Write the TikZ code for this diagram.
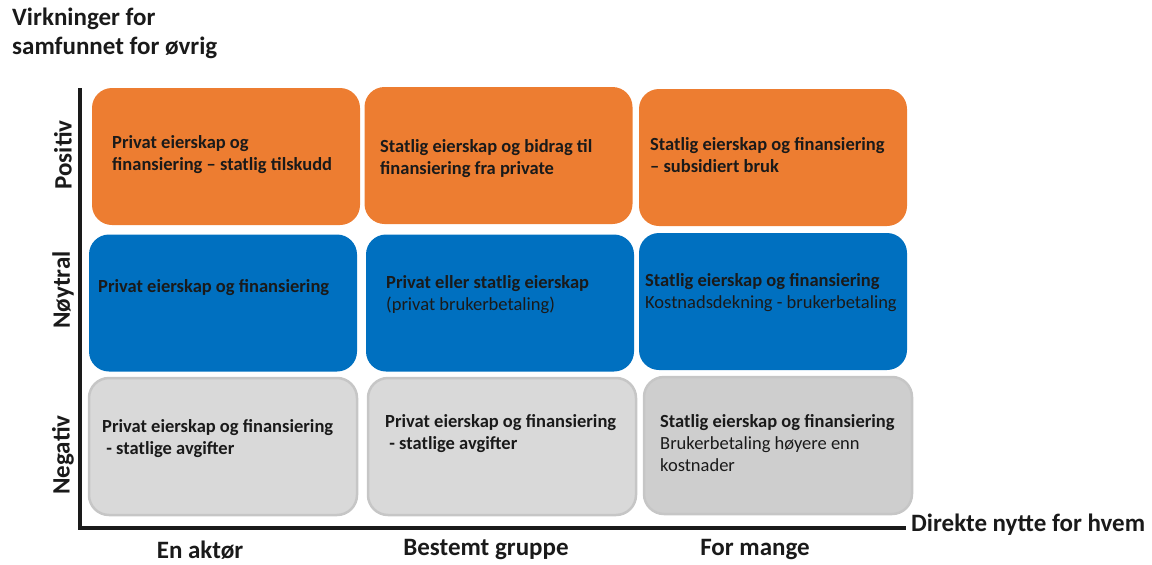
\documentclass[tikz,border=0pt]{standalone}
\usepackage{fontspec}
\setmainfont{Carlito}
\usetikzlibrary{positioning}
\definecolor{cellOrange}{HTML}{ED7D31}
\definecolor{cellBlue}{HTML}{0070C0}
\definecolor{cellGrey}{HTML}{D9D9D9}
\definecolor{cellGreyEdge}{HTML}{C6C6C6}
\definecolor{inkDark}{HTML}{1A1A1A}
\tikzset{
    cell/.style={rounded corners=20pt, minimum width=268pt, minimum height=137pt},
    cellText/.style={anchor=north west, inner sep=0pt, align=left, text=inkDark,
        font=\fontsize{18.5}{22}\selectfont},
    axisLabel/.style={font=\fontsize{25}{29}\selectfont\bfseries, text=inkDark},
}

\begin{document}
\begin{tikzpicture}[x=1pt, y=-1pt]
    \useasboundingbox (0,0) rectangle (1152,565);
    % cells
    \node[cell, fill=cellOrange] (pos1) at (226,156.5) {};
    \node[cell, fill=cellOrange] (pos2) at (498.5,155.5) {};
    \node[cell, fill=cellOrange] (pos3) at (773,157.5) {};
    \node[cell, fill=cellBlue] (noy1) at (223,303) {};
    \node[cell, fill=cellBlue] (noy2) at (500,303) {};
    \node[cell, fill=cellBlue] (noy3) at (773,301.5) {};
    \node[cell, fill=cellGrey, draw=cellGreyEdge, line width=2.5pt] (neg1) at (223,446.5) {};
    \node[cell, fill=cellGrey, draw=cellGreyEdge, line width=2.5pt] (neg2) at (502,446.5) {};
    \node[cell, fill=cellGrey!95!black, draw=cellGreyEdge, line width=2.5pt] (neg3) at (778,445.5) {};

    \node[cellText] (pos1txt) at (112,135) {\bfseries Privat eierskap og\\\bfseries finansiering -- statlig tilskudd};
    \node[cellText] (pos2txt) at (380,139) {\bfseries Statlig eierskap og bidrag til\\\bfseries finansiering fra private};
    \node[cellText] (pos3txt) at (650,137) {\bfseries Statlig eierskap og finansiering\\\bfseries -- subsidiert bruk};
    \node[cellText] (noy1txt) at (98,279) {\bfseries Privat eierskap og finansiering};
    \node[cellText] (noy2txt) at (386,275) {\bfseries Privat eller statlig eierskap\\(privat brukerbetaling)};
    \node[cellText] (noy3txt) at (645,273) {\bfseries Statlig eierskap og finansiering\\Kostnadsdekning - brukerbetaling};
    \node[cellText] (neg1txt) at (102,419) {\bfseries Privat eierskap og finansiering\\\bfseries\ - statlige avgifter};
    \node[cellText] (neg2txt) at (385,414) {\bfseries Privat eierskap og finansiering\\\bfseries\ - statlige avgifter};
    \node[cellText] (neg3txt) at (660,414) {\bfseries Statlig eierskap og finansiering\\Brukerbetaling høyere enn\\kostnader};

    % axes
    \coordinate (ytop) at (80,88);
    \coordinate (origin) at (80,528);
    \coordinate (xend) at (906,528);
    \draw[line width=4pt, inkDark] (ytop) -- (origin) -- (xend);

    \node[axisLabel, anchor=north west, align=left, inner sep=0pt] (yname) at (12,8) {Virkninger for\\samfunnet for øvrig};
    \node[axisLabel, anchor=west, inner sep=0pt] (xname) at (911,525) {Direkte nytte for hvem};

    \node[axisLabel, rotate=90] (lblPos) at (63,155) {Positiv};
    \node[axisLabel, rotate=90] (lblNoy) at (63,290) {Nøytral};
    \node[axisLabel, rotate=90] (lblNeg) at (63,455) {Negativ};

    \node[axisLabel, inner sep=0pt] (lblEn) at (200,550) {En aktør};
    \node[axisLabel, inner sep=0pt] (lblGruppe) at (486,550) {Bestemt gruppe};
    \node[axisLabel, inner sep=0pt] (lblMange) at (755,550) {For mange};
\end{tikzpicture}
\end{document}
